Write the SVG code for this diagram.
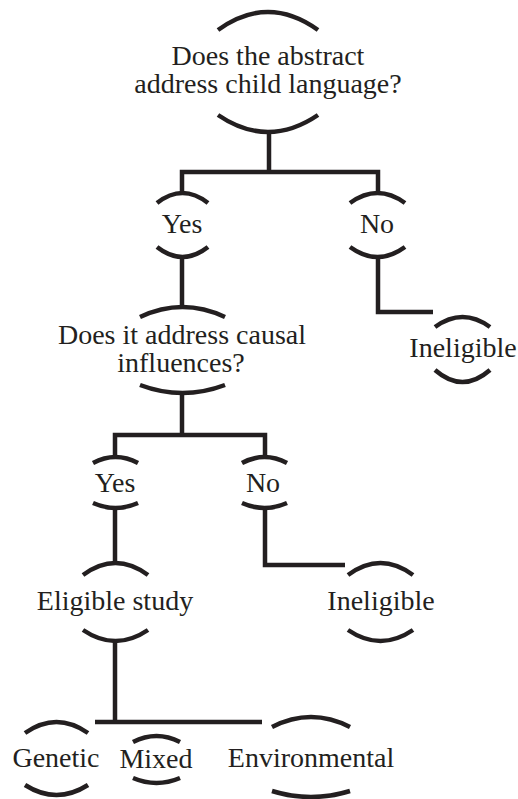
<svg xmlns="http://www.w3.org/2000/svg" width="518" height="799" viewBox="0 0 518 799">
<style>
.b{fill:none;stroke:#231f20;stroke-width:4.5}
.c{fill:none;stroke:#231f20;stroke-width:4.5;stroke-linejoin:miter}
.t text{font-size:28px;fill:#231f20;text-anchor:middle}
</style>
<rect width="518" height="799" fill="#fff"/>
<g id="connectors">
<path class="c" d="M269,132 V172"/>
<path class="c" d="M182,194 V172 H378 V194"/>
<path class="c" d="M182,257 V308"/>
<path class="c" d="M378,257 V312 H433"/>
<path class="c" d="M182,393 V435"/>
<path class="c" d="M115,458 V435 H265 V458"/>
<path class="c" d="M115,508 V564"/>
<path class="c" d="M265,508 V565 H345"/>
<path class="c" d="M115,641 V722"/>
<path class="c" d="M95,722 H262"/>
</g>
<g class="t" font-family="Liberation Serif, Times New Roman, DejaVu Serif, serif">
<g id="q1">
<path class="b" d="M218,30 Q268,-6 318,30"/>
<text x="268" y="65">Does the abstract</text>
<text x="268" y="93">address child language?</text>
<path class="b" d="M218,115 Q268,149 318,115"/>
</g>
<g id="yes1">
<path class="b" d="M157,203 Q182.5,183 208,203"/>
<text x="182" y="233">Yes</text>
<path class="b" d="M157,247 Q182.5,267 208,247"/>
</g>
<g id="no1">
<path class="b" d="M350,203 Q377.5,183 405,203"/>
<text x="377" y="233">No</text>
<path class="b" d="M350,247 Q377.5,267 405,247"/>
</g>
<g id="q2">
<path class="b" d="M140,317 Q182.5,297 225,317"/>
<text x="182" y="344">Does it address causal</text>
<text x="181" y="372">influences?</text>
<path class="b" d="M140,385 Q182.5,401 225,385"/>
</g>
<g id="inel1">
<path class="b" d="M435,327 Q462.5,307 490,327"/>
<text x="463" y="357">Ineligible</text>
<path class="b" d="M435,370 Q462.5,394 490,370"/>
</g>
<g id="yes2">
<path class="b" d="M93,463 Q115.5,451 138,463"/>
<text x="115" y="492">Yes</text>
<path class="b" d="M93,503 Q115.5,513 138,503"/>
</g>
<g id="no2">
<path class="b" d="M242,463 Q264.5,451 287,463"/>
<text x="263" y="492">No</text>
<path class="b" d="M242,503 Q264.5,513 287,503"/>
</g>
<g id="eligible">
<path class="b" d="M83,575 Q115.5,551 148,575"/>
<text x="115" y="610">Eligible study</text>
<path class="b" d="M83,630 Q115.5,652 148,630"/>
</g>
<g id="inel2">
<path class="b" d="M348,575 Q380.5,551 413,575"/>
<text x="381" y="610">Ineligible</text>
<path class="b" d="M348,630 Q380.5,652 413,630"/>
</g>
<g id="genetic">
<path class="b" d="M25,733 Q56.5,711 88,733"/>
<text x="56" y="767">Genetic</text>
<path class="b" d="M25,785 Q56.5,805 88,785"/>
</g>
<g id="mixed">
<path class="b" d="M133,742 Q156.5,730 180,742"/>
<text x="156" y="768">Mixed</text>
<path class="b" d="M133,778 Q156.5,788 180,778"/>
</g>
<g id="environmental">
<path class="b" d="M272,727 Q311,707 350,727"/>
<text x="311" y="767">Environmental</text>
<path class="b" d="M272,791 Q311,803 350,791"/>
</g>
</g>
</svg>
